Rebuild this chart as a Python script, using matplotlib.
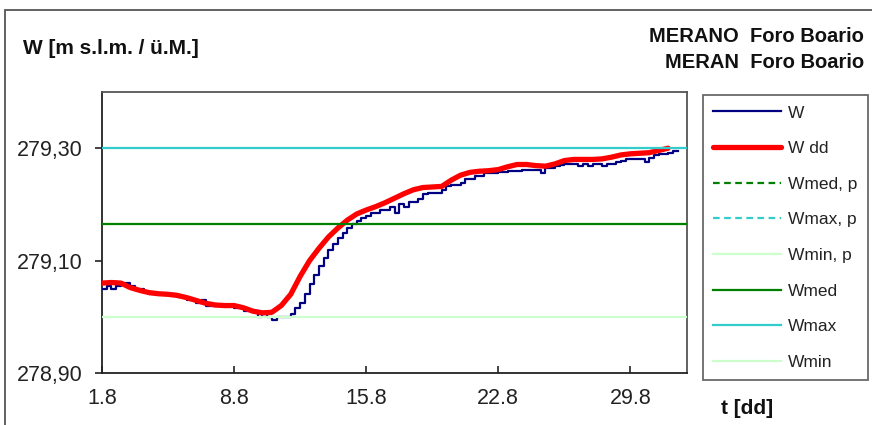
import matplotlib
matplotlib.use('Agg')
import matplotlib.pyplot as plt
import numpy as np
from matplotlib.lines import Line2D
from matplotlib.patches import Rectangle

plt.rcParams['font.family'] = ['Liberation Sans', 'DejaVu Sans']

# W, every 6 hours from 1 Aug (days since 1.8)
w_step = 0.25
w = [279.050, 279.055, 279.050, 279.055, 279.060, 279.060, 279.055, 279.050,
     279.050, 279.045, 279.040, 279.040, 279.040, 279.040, 279.040, 279.040,
     279.035, 279.035, 279.030, 279.030, 279.025, 279.030, 279.020, 279.020,
     279.020, 279.020, 279.020, 279.020, 279.015, 279.015, 279.010, 279.010,
     279.010, 279.000, 279.005, 279.000, 278.995, 279.000, 279.000, 279.000,
     279.005, 279.015, 279.025, 279.040, 279.058, 279.075, 279.090, 279.105,
     279.118, 279.130, 279.140, 279.150, 279.158, 279.165, 279.170, 279.175,
     279.180, 279.185, 279.185, 279.190, 279.190, 279.195, 279.185, 279.200,
     279.195, 279.205, 279.205, 279.210, 279.218, 279.220, 279.220, 279.220,
     279.225, 279.232, 279.235, 279.235, 279.238, 279.245, 279.245, 279.250,
     279.250, 279.255, 279.255, 279.255, 279.258, 279.258, 279.260, 279.260,
     279.260, 279.262, 279.262, 279.262, 279.262, 279.255, 279.265, 279.265,
     279.268, 279.270, 279.272, 279.272, 279.272, 279.268, 279.272, 279.268,
     279.272, 279.272, 279.268, 279.272, 279.272, 279.275, 279.278, 279.280,
     279.280, 279.280, 279.280, 279.275, 279.282, 279.288, 279.290, 279.290,
     279.292, 279.295, 279.295]

# W dd, every 12 hours
wdd_step = 0.5
wdd = [279.060, 279.061, 279.060, 279.052, 279.047, 279.043, 279.041, 279.040,
       279.038, 279.034, 279.029, 279.024, 279.021, 279.020, 279.020, 279.016,
       279.010, 279.007, 279.008, 279.020, 279.040, 279.072, 279.100, 279.122,
       279.142, 279.158, 279.172, 279.183, 279.190, 279.196, 279.203, 279.211,
       279.219, 279.226, 279.230, 279.231, 279.232, 279.243, 279.252, 279.257,
       279.259, 279.260, 279.262, 279.267, 279.271, 279.271, 279.269, 279.268,
       279.272, 279.278, 279.280, 279.280, 279.280, 279.281, 279.284, 279.288,
       279.290, 279.291, 279.292, 279.296, 279.300]

wmed = 279.165
wmax = 279.30
wmin = 279.00

xtick_days = [0, 7, 14, 21, 28]
xtick_labels = ['1.8', '8.8', '15.8', '22.8', '29.8']
ytick_vals = [278.90, 279.10, 279.30]

t_w = np.arange(len(w)) * w_step
t_wdd = np.arange(len(wdd)) * wdd_step

fig = plt.figure(figsize=(8.72, 4.25), dpi=100)
ax = fig.add_axes([102/872, 52/425, 585/872, 281/425])

l_w, = ax.plot(t_w, w, color='#000080', lw=1.6, drawstyle='steps-post', zorder=3, label='W')
l_wdd, = ax.plot(t_wdd, wdd, color='#ff0000', lw=3.8, zorder=4, label='W dd',
                 solid_capstyle='round', solid_joinstyle='round')
l_med = ax.axhline(wmed, color='#008000', lw=1.6, zorder=5, label='Wmed')
l_max = ax.axhline(wmax, color='#33cccc', lw=1.6, zorder=5, label='Wmax')
l_min = ax.axhline(wmin, color='#ccffcc', lw=1.6, zorder=5, label='Wmin')

# series without points in this period, only in the legend
l_medp = Line2D([], [], color='#008000', lw=1.6, ls=(0, (3, 2)), label='Wmed, p')
l_maxp = Line2D([], [], color='#33cccc', lw=1.6, ls=(0, (3, 2)), label='Wmax, p')
l_minp = Line2D([], [], color='#ccffcc', lw=1.6, label='Wmin, p')

ax.set_xlim(0, 31)
ax.set_ylim(278.9, 279.4)
ax.set_xticks(xtick_days)
ax.set_xticklabels(xtick_labels)
ax.set_yticks(ytick_vals)
ax.set_yticklabels([('%.2f' % v).replace('.', ',') for v in ytick_vals])
ax.tick_params(axis='x', direction='in', length=5, width=1.2, labelsize=15.5, pad=11, colors='#222222')
ax.tick_params(axis='y', direction='out', length=5, width=1.2, labelsize=15.5, pad=9, colors='#222222')
for s in ['top', 'right']:
    ax.spines[s].set_color('#555555')
    ax.spines[s].set_linewidth(1.3)
for s in ['left', 'bottom']:
    ax.spines[s].set_color('#222222')
    ax.spines[s].set_linewidth(1.3)

handles = [l_w, l_wdd, l_medp, l_maxp, l_minp, l_med, l_max, l_min]
leg = fig.legend(handles=handles, loc='upper left',
                 bbox_to_anchor=(703/872, (425-95)/425),
                 fontsize=12.5, frameon=True, fancybox=False,
                 handlelength=3.9, handletextpad=0.4, labelspacing=1.18,
                 borderpad=0.6, borderaxespad=0)
leg.get_frame().set_edgecolor('#444444')
leg.get_frame().set_linewidth(1.3)
for txt in leg.get_texts():
    txt.set_color('#222222')

fig.text(23/872, 1 - 49/425, 'W [m s.l.m. / ü.M.]', fontsize=15, fontweight='bold',
         va='center', ha='left', color='#111111')
fig.text(864/872, 1 - 37/425, 'MERANO  Foro Boario', fontsize=14.5, fontweight='bold',
         va='center', ha='right', color='#111111')
fig.text(864/872, 1 - 62/425, 'MERAN  Foro Boario', fontsize=14.5, fontweight='bold',
         va='center', ha='right', color='#111111')
fig.text(721/872, 1 - 409/425, 't [dd]', fontsize=15, fontweight='bold',
         va='center', ha='left', color='#111111')

# outer frame of the chart
fig.patches.append(Rectangle((5/872, -0.05), 1.0, 1 - 10/425 + 0.05, transform=fig.transFigure,
                             fill=False, edgecolor='#555555', lw=1.3))

fig.savefig('out.png', dpi=100)
